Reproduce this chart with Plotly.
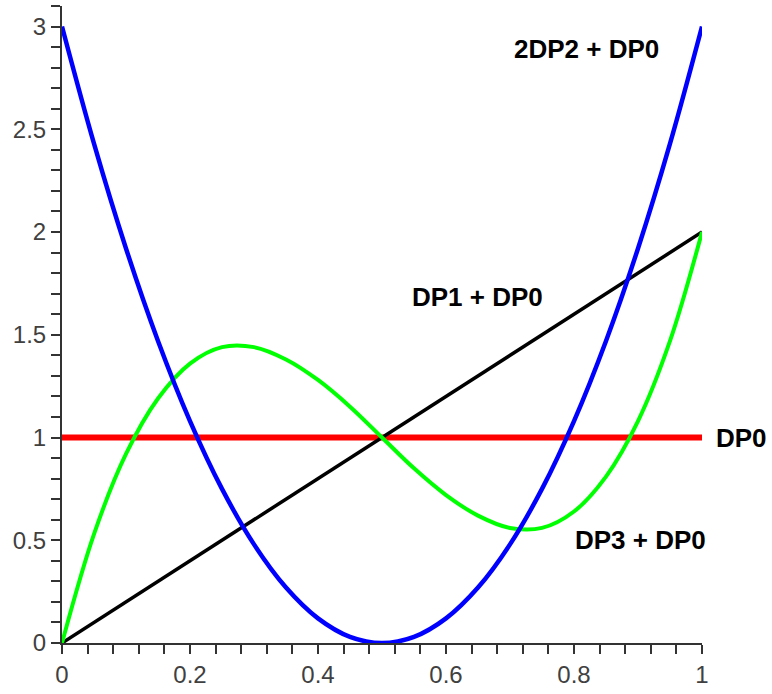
import plotly.graph_objects as go

x_vals = [0, 0.05, 0.1, 0.15, 0.2, 0.25, 0.3, 0.35, 0.4, 0.45, 0.5,
          0.55, 0.6, 0.65, 0.7, 0.75, 0.8, 0.85, 0.9, 0.95, 1]
dp0 = [1] * 21
dp1_dp0_x = [0, 1]
dp1_dp0 = [0, 2]
dp2_dp0 = [3, 2.43, 1.92, 1.47, 1.08, 0.75, 0.48, 0.27, 0.12, 0.03, 0,
           0.03, 0.12, 0.27, 0.48, 0.75, 1.08, 1.47, 1.92, 2.43, 3]
dp3_dp0 = [0, 0.53, 0.92, 1.19, 1.36, 1.44, 1.44, 1.38, 1.28, 1.15, 1,
           0.85, 0.72, 0.62, 0.56, 0.56, 0.64, 0.81, 1.08, 1.47, 2]

labels = ["2DP2 + DP0", "DP1 + DP0", "DP0", "DP3 + DP0"]
label_x = [0.703, 0.544, 1.0, 0.798]
label_y = [2.893, 1.684, 1.0, 0.503]
label_shift = [0, 0, 12, 0]

fig = go.Figure()
fig.add_trace(go.Scatter(x=x_vals, y=dp0, mode="lines",
                         line=dict(color="#ff0000", width=6)))
fig.add_trace(go.Scatter(x=dp1_dp0_x, y=dp1_dp0, mode="lines",
                         line=dict(color="#000000", width=3.5)))
fig.add_trace(go.Scatter(x=x_vals, y=dp3_dp0, mode="lines",
                         line=dict(color="#00ff00", width=4, shape="spline")))
fig.add_trace(go.Scatter(x=x_vals, y=dp2_dp0, mode="lines",
                         line=dict(color="#0000ff", width=4.5, shape="spline")))

for t, lx, ly, sh in zip(labels, label_x, label_y, label_shift):
    fig.add_annotation(x=lx, y=ly, text="<b>" + t + "</b>", showarrow=False,
                       xanchor="left", yanchor="middle", xshift=sh,
                       font=dict(family="Liberation Sans, Arial", size=26, color="#000000"))

axis_common = dict(showgrid=False, zeroline=False, showline=True,
                   linecolor="#333333", linewidth=2, ticks="outside",
                   ticklen=9, tickwidth=2, tickcolor="#333333",
                   tickfont=dict(family="Liberation Sans, Arial", size=24, color="#404040"))

fig.update_layout(
    width=772, height=694,
    margin=dict(l=62, r=70, t=6, b=47),
    paper_bgcolor="white", plot_bgcolor="white",
    showlegend=False,
    xaxis=dict(range=[0, 1], tickvals=[0, 0.2, 0.4, 0.6, 0.8, 1],
               ticktext=["0", "0.2", "0.4", "0.6", "0.8", "1"],
               minor=dict(tickvals=[i * 0.04 for i in range(26)], ticks="outside",
                          ticklen=9, tickwidth=2, tickcolor="#333333"),
               **axis_common),
    yaxis=dict(range=[0, 3.1], tickvals=[0, 0.5, 1, 1.5, 2, 2.5, 3],
               ticktext=["0", "0.5", "1", "1.5", "2", "2.5", "3"],
               minor=dict(tickvals=[i * 0.1 for i in range(32)], ticks="outside",
                          ticklen=9, tickwidth=2, tickcolor="#333333"),
               **axis_common),
)

fig.write_html("out.html")
